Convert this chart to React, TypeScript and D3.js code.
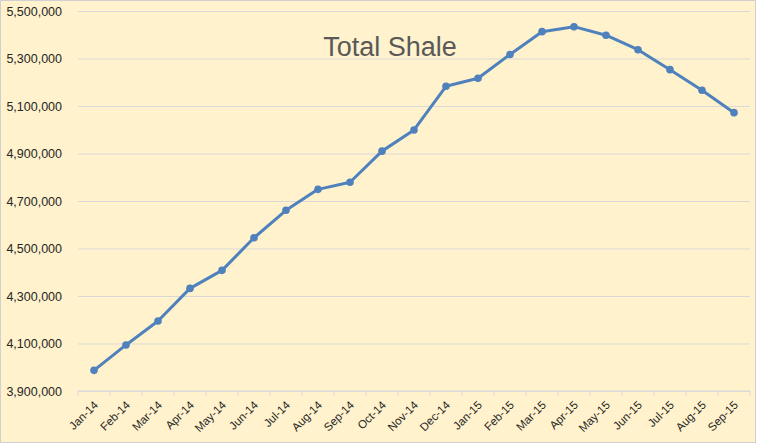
import { useEffect, useRef } from "react";
import * as d3 from "d3";

const months = [
  "Jan-14", "Feb-14", "Mar-14", "Apr-14", "May-14", "Jun-14", "Jul-14",
  "Aug-14", "Sep-14", "Oct-14", "Nov-14", "Dec-14", "Jan-15", "Feb-15",
  "Mar-15", "Apr-15", "May-15", "Jun-15", "Jul-15", "Aug-15", "Sep-15",
];

const production = [
  3987000, 4094000, 4195000, 4332000, 4408000, 4545000, 4661000,
  4749000, 4779000, 4910000, 4999000, 5183000, 5217000, 5317000,
  5413000, 5434000, 5398000, 5337000, 5253000, 5166000, 5072000,
];

const yTicks = [3900000, 4100000, 4300000, 4500000, 4700000, 4900000, 5100000, 5300000, 5500000];

const width = 758;
const height = 445;
const margin = { top: 11, right: 8, bottom: 54, left: 78 };

const TotalShaleChart = () => {
  const svgRef = useRef<SVGSVGElement>(null);

  useEffect(() => {
    if (!svgRef.current) return;
    const svg = d3.select(svgRef.current);
    svg.selectAll("*").remove();

    const innerWidth = width - margin.left - margin.right;
    const innerHeight = height - margin.top - margin.bottom;

    // background + border
    svg
      .append("rect")
      .attr("x", 0.5)
      .attr("y", 0.5)
      .attr("width", width - 3)
      .attr("height", height - 3)
      .attr("fill", "#FFF2CC")
      .attr("stroke", "#D0D0D0");

    const g = svg
      .append("g")
      .attr("transform", `translate(${margin.left},${margin.top})`);

    const xScale = d3
      .scaleBand<string>()
      .domain(months)
      .range([0, innerWidth]);

    const yScale = d3
      .scaleLinear()
      .domain([3900000, 5500000])
      .range([innerHeight, 0]);

    // Gridlines + y labels
    const yAxis = d3
      .axisLeft(yScale)
      .tickValues(yTicks)
      .tickSize(-innerWidth)
      .tickPadding(16)
      .tickFormat((d) => d3.format(",")(d as number));

    const yAxisGroup = g.append("g").attr("class", "y-axis").call(yAxis);
    yAxisGroup.select(".domain").remove();
    yAxisGroup.selectAll(".tick line").attr("stroke", "#D9D9D9");
    yAxisGroup
      .selectAll("text")
      .attr("fill", "#262626")
      .attr("font-family", "Liberation Sans, Arial, sans-serif")
      .attr("font-size", "12.5px");

    // X axis
    const xAxisGroup = g
      .append("g")
      .attr("class", "x-axis")
      .attr("transform", `translate(0,${innerHeight})`);

    xAxisGroup
      .append("line")
      .attr("x1", 0)
      .attr("x2", innerWidth)
      .attr("stroke", "#D9D9D9");

    xAxisGroup
      .selectAll("line.tick")
      .data([...months, ""])
      .enter()
      .append("line")
      .attr("class", "tick")
      .attr("x1", (_d, i) => i * xScale.step())
      .attr("x2", (_d, i) => i * xScale.step())
      .attr("y1", 0)
      .attr("y2", 5)
      .attr("stroke", "#D9D9D9");

    xAxisGroup
      .selectAll("text")
      .data(months)
      .enter()
      .append("text")
      .attr(
        "transform",
        (d) => `translate(${(xScale(d) ?? 0) + xScale.bandwidth() / 2 - 1},${9}) rotate(-45)`
      )
      .attr("text-anchor", "end")
      .attr("dy", "0.7em")
      .attr("fill", "#262626")
      .attr("font-family", "Liberation Sans, Arial, sans-serif")
      .attr("font-size", "11.5px")
      .text((d) => d);

    // Line
    const line = d3
      .line<number>()
      .x((_d, i) => (xScale(months[i]) ?? 0) + xScale.bandwidth() / 2)
      .y((d) => yScale(d));

    g.append("path")
      .datum(production)
      .attr("fill", "none")
      .attr("stroke", "#4F81BD")
      .attr("stroke-width", 3)
      .attr("stroke-linejoin", "round")
      .attr("d", line);

    g.selectAll("circle.point")
      .data(production)
      .enter()
      .append("circle")
      .attr("class", "point")
      .attr("cx", (_d, i) => (xScale(months[i]) ?? 0) + xScale.bandwidth() / 2)
      .attr("cy", (d) => yScale(d))
      .attr("r", 3.8)
      .attr("fill", "#4F81BD");

    // Title
    svg
      .append("text")
      .attr("x", 390)
      .attr("y", 56)
      .attr("text-anchor", "middle")
      .attr("font-family", "Liberation Sans, Arial, sans-serif")
      .attr("font-size", "27px")
      .attr("fill", "#595959")
      .text("Total Shale");
  }, []);

  return (
    <svg
      ref={svgRef}
      width={width}
      height={height}
      style={{ position: "absolute", left: 0, top: 0 }}
    />
  );
};

export default function App() {
  return <TotalShaleChart />;
}
